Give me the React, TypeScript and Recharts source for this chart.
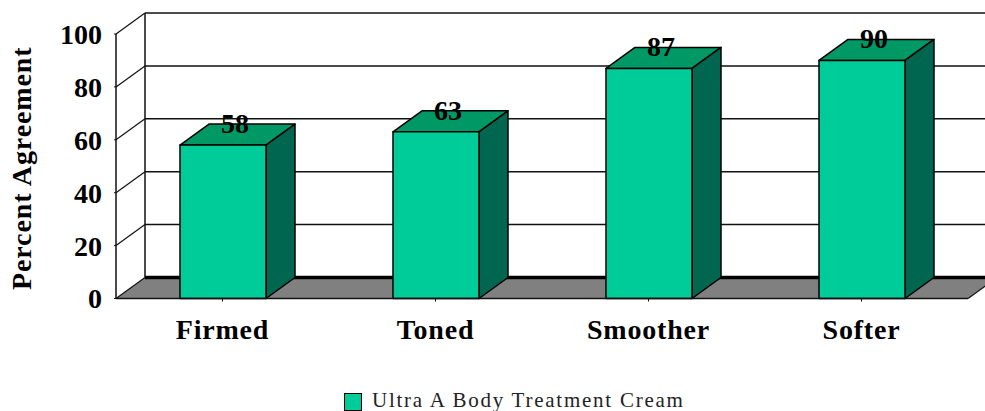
import { Bar, BarChart, CartesianGrid, LabelList, Legend, XAxis, YAxis } from 'recharts';

const categories = ['Firmed', 'Toned', 'Smoother', 'Softer'];
const agreement = [58, 63, 87, 90];
const yTicks = [0, 20, 40, 60, 80, 100];
const seriesName = 'Ultra A Body Treatment Cream';

const data = categories.map((name, i) => ({ name, value: agreement[i] }));

const depthX = 29;
const depthY = 21;
const plotHeight = 264.5;
const serif = '"Liberation Serif", serif';
const colors = {
  front: '#00CC99',
  top: '#009966',
  side: '#006650',
  floor: '#808080',
  line: '#111111',
};

// back wall line plus the slanted piece on the left wall, floor sits on the 0 line
function GridLine(props: any) {
  const { x1, x2, y1 } = props;
  const isFloor = y1 > 290;
  return (
    <g>
      {isFloor && (
        <polygon
          points={`${x1},${y1} ${x1 + depthX},${y1 - depthY} ${x2 + depthX},${y1 - depthY} ${x2},${y1}`}
          fill={colors.floor}
        />
      )}
      <line
        x1={x1 + depthX}
        x2={x2 + depthX}
        y1={y1 - depthY}
        y2={y1 - depthY}
        stroke={isFloor ? '#000' : colors.line}
        strokeWidth={isFloor ? 3.5 : 1.5}
      />
      <line x1={x1} x2={x1 + depthX} y1={y1} y2={y1 - depthY} stroke={colors.line} strokeWidth={1.2} />
      {isFloor && (
        <>
          <line x1={x1 + depthX} x2={x1 + depthX} y1={y1 - depthY} y2={y1 - depthY - plotHeight} stroke={colors.line} strokeWidth={1.5} />
          <line x1={x1} x2={x1} y1={y1} y2={y1 - plotHeight} stroke={colors.line} strokeWidth={1.5} />
          <line x1={x2} x2={x2 + depthX} y1={y1} y2={y1 - depthY} stroke={colors.line} strokeWidth={1.2} />
        </>
      )}
    </g>
  );
}

function Box3D(props: any) {
  const { x, y, width, height } = props;
  const r = x + width;
  const b = y + height;
  return (
    <g stroke="#000" strokeWidth={1.5} strokeLinejoin="round">
      <polygon
        points={`${x},${y} ${x + depthX},${y - depthY} ${r + depthX},${y - depthY} ${r},${y}`}
        fill={colors.top}
      />
      <polygon
        points={`${r},${y} ${r + depthX},${y - depthY} ${r + depthX},${b - depthY} ${r},${b}`}
        fill={colors.side}
      />
      <rect x={x} y={y} width={width} height={height} fill={colors.front} />
    </g>
  );
}

function ValueLabel(props: any) {
  const { x, y, width, value } = props;
  return (
    <text
      x={x + width / 2 + 12}
      y={y - 12}
      textAnchor="middle"
      fontFamily={serif}
      fontSize={28}
      fontWeight="bold"
      fill="#000"
    >
      {value}
    </text>
  );
}

function LegendRow() {
  return (
    <div style={{ display: 'flex', alignItems: 'center', fontFamily: serif, fontSize: 21, color: '#222', lineHeight: '20px' }}>
      <span
        style={{
          display: 'inline-block',
          position: 'relative',
          top: 2,
          width: 16,
          height: 16,
          marginRight: 10,
          background: colors.front,
          border: '1.5px solid #000',
        }}
      />
      <span style={{ letterSpacing: 1.75 }}>{seriesName}</span>
    </div>
  );
}

export default function App() {
  return (
    <div style={{ position: 'absolute', left: 0, top: 0, width: 985, height: 411, background: '#fff' }}>
      <BarChart
        width={985}
        height={411}
        data={data}
        margin={{ top: 34, right: 17, bottom: 62.5, left: 0 }}
      >
        <CartesianGrid horizontal={(p: any) => <GridLine key={p.y1} {...p} />} vertical={false} />
        <XAxis
          dataKey="name"
          height={30}
          axisLine={{ stroke: colors.line, strokeWidth: 1.5 }}
          tickLine={{ stroke: colors.line }}
          tickSize={3}
          tickMargin={18}
          interval={0}
          tick={{ fontFamily: serif, fontSize: 28, fontWeight: 'bold', fill: '#000', letterSpacing: 0.8 }}
        />
        <YAxis
          width={116}
          domain={[0, 100]}
          ticks={yTicks}
          axisLine={false}
          tickLine={{ stroke: colors.line }}
          tickSize={2}
          tickMargin={12}
          tick={{ fontFamily: serif, fontSize: 28, fontWeight: 'bold', fill: '#000' }}
          label={{
            value: 'Percent Agreement',
            angle: -90,
            position: 'insideLeft',
            offset: 0,
            dx: 21,
            dy: 2,
            style: { fontFamily: serif, fontSize: 28, fontWeight: 'bold', fill: '#000', textAnchor: 'middle', letterSpacing: 0.9 },
          }}
        />
        <Bar dataKey="value" name={seriesName} barSize={86} shape={Box3D} isAnimationActive={false}>
          <LabelList dataKey="value" content={ValueLabel} />
        </Bar>
        <Legend
          content={LegendRow}
          height={20}
          wrapperStyle={{ position: 'absolute', left: 344, top: 390, width: 400, bottom: 'auto' }}
        />
      </BarChart>
    </div>
  );
}
